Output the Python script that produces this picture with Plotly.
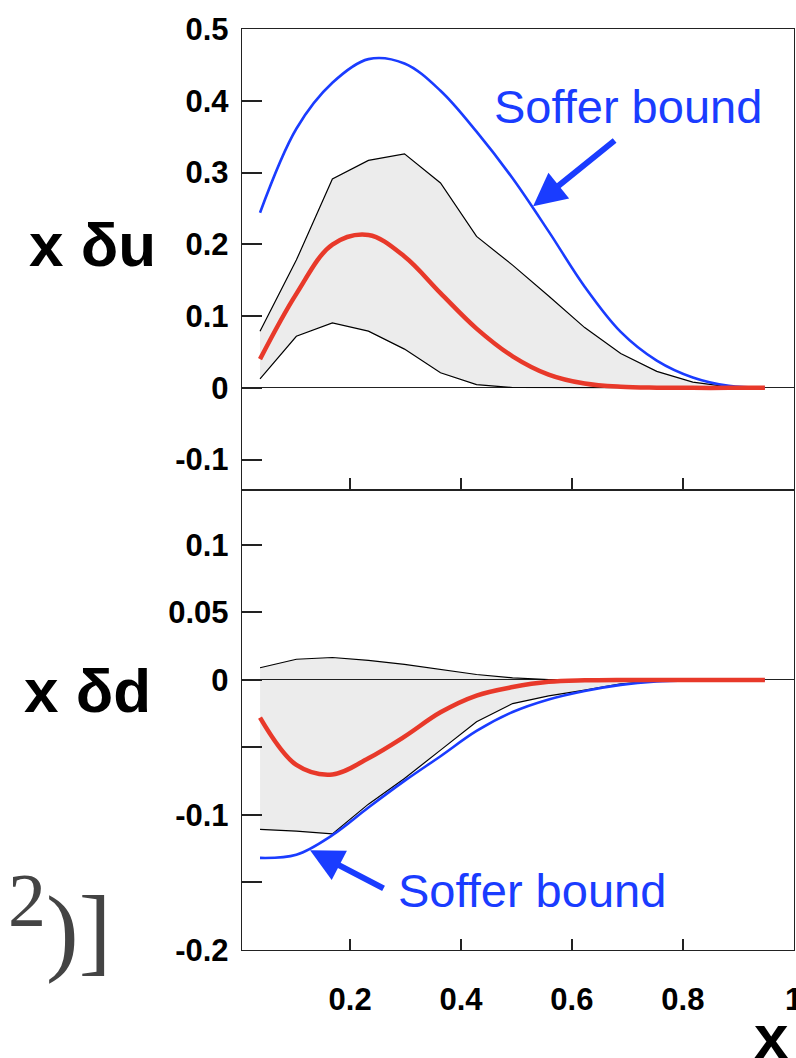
import plotly.graph_objects as go

# ---------------- data ----------------
x_vals = [0.0375, 0.103, 0.168, 0.233, 0.298, 0.363, 0.428, 0.493, 0.558, 0.623, 0.688, 0.753, 0.818, 0.883, 0.948]

# x δu panel
u_upper = [0.079, 0.178, 0.291, 0.317, 0.326, 0.2855, 0.211, 0.171, 0.128, 0.084, 0.048, 0.023, 0.008, 0.0014, 0.0]
u_lower = [0.0125, 0.0719, 0.0905, 0.079, 0.054, 0.021, 0.0046, 0.0005, 0.0, 0.0, 0.0, 0.0, 0.0, 0.0, 0.0]
u_central = [0.040, 0.131, 0.1996, 0.213, 0.183, 0.132, 0.0826, 0.044, 0.0185, 0.006, 0.0015, 0.0003, 0.0, 0.0, 0.0]
u_soffer = [0.244, 0.361, 0.425, 0.458, 0.452, 0.414, 0.357, 0.292, 0.218, 0.141, 0.078, 0.038, 0.0145, 0.0028, 0.0]

# x δd panel
d_upper = [0.009, 0.0153, 0.0166, 0.0145, 0.0115, 0.0076, 0.004, 0.0015, 0.0003, 0.0, 0.0, 0.0, 0.0, 0.0, 0.0]
d_lower = [-0.1107, -0.112, -0.114, -0.092, -0.073, -0.052, -0.031, -0.0175, -0.0118, -0.0075, -0.003, -0.0008, 0.0, 0.0, 0.0]
d_central = [-0.028, -0.063, -0.070, -0.058, -0.042, -0.024, -0.0116, -0.0053, -0.0014, -0.0003, 0.0, 0.0, 0.0, 0.0, 0.0]
d_soffer = [-0.1318, -0.1295, -0.115, -0.0945, -0.0748, -0.0565, -0.0378, -0.0238, -0.0145, -0.0082, -0.0037, -0.0012, -0.0003, 0.0, 0.0]

# ticks
x_tickvals = [0.2, 0.4, 0.6, 0.8, 1.0]
x_ticktext = ["0.2", "0.4", "0.6", "0.8", "1"]
yu_tickvals = [-0.1, 0.0, 0.1, 0.2, 0.3, 0.4, 0.5]
yu_ticktext = ["-0.1", "0", "0.1", "0.2", "0.3", "0.4", "0.5"]
yd_tickvals = [-0.2, -0.15, -0.1, -0.05, 0.0, 0.05, 0.1]
yd_ticktext = ["-0.2", "", "-0.1", "", "0", "0.05", "0.1"]

# ---------------- styles ----------------
BLUE = "#1a3cff"
RED = "#e8392a"
BAND_FILL = "rgba(0,0,0,0.075)"
TICKFONT = dict(family="Liberation Sans, Arial", size=31, color="black", weight="bold")

W, H = 796, 1058
ML, MR, MT, MB = 242, 2, 29, 108
PW, PH = W - ML - MR, H - MT - MB


def px_x(p):
    return (p - ML) / PW


def px_y(p):
    return (H - MB - p) / PH


fig = go.Figure()

for (up, lo, cen, sof, xa, ya) in [
    (u_upper, u_lower, u_central, u_soffer, "x", "y"),
    (d_upper, d_lower, d_central, d_soffer, "x2", "y2"),
]:
    fig.add_trace(go.Scatter(
        x=x_vals + x_vals[::-1], y=up + lo[::-1], mode="lines", fill="toself",
        fillcolor=BAND_FILL, line=dict(color="black", width=1.2),
        xaxis=xa, yaxis=ya, showlegend=False, hoverinfo="skip"))
    fig.add_trace(go.Scatter(
        x=x_vals, y=sof, mode="lines", line=dict(color=BLUE, width=2.6, shape="spline"),
        xaxis=xa, yaxis=ya, showlegend=False))
    fig.add_trace(go.Scatter(
        x=x_vals, y=cen, mode="lines", line=dict(color=RED, width=4.5, shape="spline"),
        xaxis=xa, yaxis=ya, showlegend=False))

axis_common = dict(showline=True, linecolor="#222", linewidth=1.4, mirror=True,
                   showgrid=False, ticks="inside", tickcolor="#222", tickwidth=1.6,
                   automargin=False, ticklabeloverflow="allow")

fig.update_layout(
    width=W, height=H,
    margin=dict(l=ML, r=MR, t=MT, b=MB, pad=0),
    paper_bgcolor="white", plot_bgcolor="white",
    showlegend=False,
    xaxis=dict(domain=[0, 1], anchor="y", range=[0.005, 1.0005], tickvals=x_tickvals[:-1],
               showticklabels=False, ticklen=11, zeroline=False, **axis_common),
    yaxis=dict(domain=[0.5, 1], anchor="x", range=[-0.1416, 0.5], tickvals=yu_tickvals,
               ticktext=yu_ticktext, ticklen=20, tickfont=TICKFONT, ticklabelstandoff=6,
               zeroline=True, zerolinecolor="#222", zerolinewidth=1.3, **axis_common),
    xaxis2=dict(domain=[0, 1], anchor="y2", range=[0.005, 1.0005], tickvals=x_tickvals,
                ticktext=x_ticktext, ticklen=11, tickfont=TICKFONT, ticklabelstandoff=22,
                zeroline=False, **axis_common),
    yaxis2=dict(domain=[0, 0.5], anchor="x2", range=[-0.2, 0.141], tickvals=yd_tickvals,
                ticktext=yd_ticktext, ticklen=20, tickfont=TICKFONT, ticklabelstandoff=6,
                zeroline=True, zerolinecolor="#222", zerolinewidth=1.3, **axis_common),
)

label_font = dict(family="Liberation Sans, Arial", size=62, color="black", weight="bold")
soffer_font = dict(family="Liberation Sans, Arial", size=47, color=BLUE)
gray_font = dict(family="Liberation Serif, Times New Roman", color="#444")

annotations = [
    dict(text="x δu", x=px_x(92), y=px_y(244), xref="paper", yref="paper",
         xanchor="center", yanchor="middle", showarrow=False, font=label_font),
    dict(text="x δd", x=px_x(87), y=px_y(690), xref="paper", yref="paper",
         xanchor="center", yanchor="middle", showarrow=False, font=label_font),
    dict(text="x", x=px_x(771), y=px_y(1036), xref="paper", yref="paper",
         xanchor="center", yanchor="middle", showarrow=False, font=label_font),
    dict(text="Soffer bound", x=px_x(628), y=px_y(106), xref="paper", yref="paper",
         xanchor="center", yanchor="middle", showarrow=False, font=soffer_font),
    dict(text="Soffer bound", x=px_x(532), y=px_y(890), xref="paper", yref="paper",
         xanchor="center", yanchor="middle", showarrow=False, font=soffer_font),
    # arrows
    dict(text="", x=0.530, y=0.253, xref="x", yref="y", ax=83, ay=-67,
         showarrow=True, arrowhead=2, arrowsize=1.1, arrowwidth=6, arrowcolor=BLUE, standoff=0),
    dict(text="", x=0.1277, y=-0.1261, xref="x2", yref="y2", ax=75, ay=39,
         showarrow=True, arrowhead=2, arrowsize=1.1, arrowwidth=6, arrowcolor=BLUE, standoff=0),
    # fragments of the slide formula at the left edge
    dict(text="2", x=px_x(27), y=px_y(900), xref="paper", yref="paper",
         xanchor="center", yanchor="middle", showarrow=False, font=dict(size=76, **gray_font)),
    dict(text=")]", x=px_x(78), y=px_y(930), xref="paper", yref="paper",
         xanchor="center", yanchor="middle", showarrow=False, font=dict(size=98, **gray_font)),
]
fig.update_layout(annotations=annotations)

fig.write_html("out.html", config={"displayModeBar": False},
               post_script="document.body.style.margin='0';")
